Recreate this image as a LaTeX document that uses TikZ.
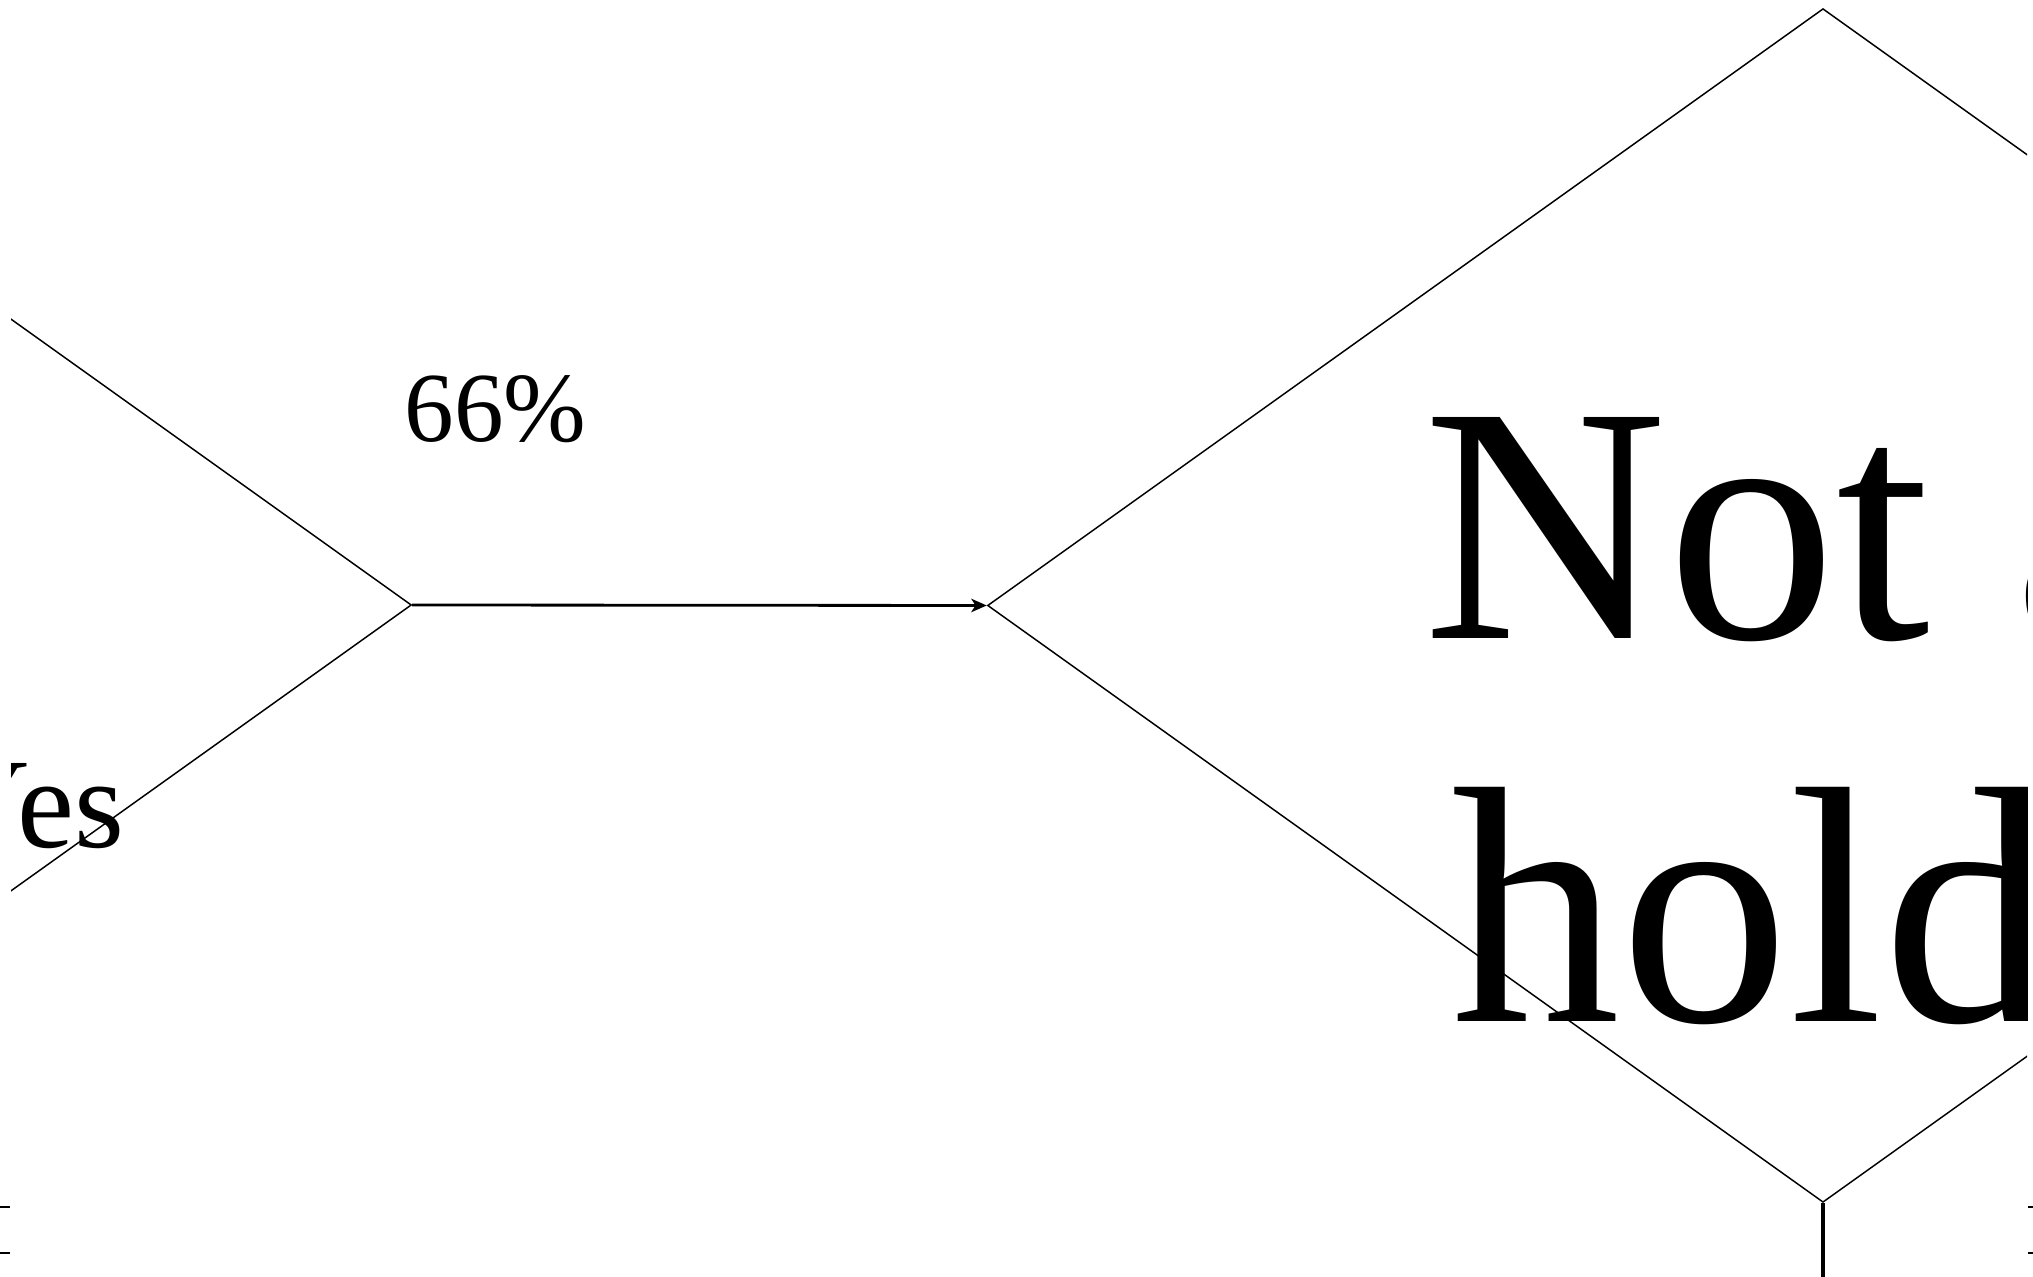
\documentclass[tikz,border=0pt]{standalone}
\usepackage{fontspec}
\setmainfont{Liberation Serif}
\usetikzlibrary{shapes.geometric,arrows.meta}
\begin{document}
\begin{tikzpicture}[x=0.01cm,y=-0.01cm,
  dia/.style={draw, diamond, line width=0.42pt, inner sep=0pt, minimum width=16.7cm, minimum height=11.93cm},
  arr/.style={line width=0.8pt, -{Stealth[length=4.4pt,width=3.8pt,inset=1.2pt]}},
  vline/.style={line width=0.95pt},
  tick/.style={line width=0.3pt},
  lbl/.style={inner sep=0pt}]
\useasboundingbox (0,0) rectangle (2033,1277);
\begin{scope}
  \clip (11,0) rectangle (2027,1277);
  \node[dia] (d1) at (-424,605) {};
  \node[dia] (d2) at (1823,605.5) {};
  \draw[arr] (d1.east) -- (d2.west);
  \node[lbl, anchor=base west, font=\fontsize{28.2}{34}\selectfont] (p66) at (404,442) {66\%};
  \node[lbl, anchor=base east, font=\fontsize{36.5}{44}\selectfont] (yes) at (125,848) {Yes};
  \node[lbl, anchor=base west, align=left, font=\fontsize{96}{109}\selectfont] (nh) at (1423,1022) {Not a\\\hspace{0.28cm}hold};
  \coordinate (vEnd) at (1823,1300);
  \draw[vline] (d2.south) -- (vEnd);
\end{scope}
\coordinate (tla) at (0,1207);
\coordinate (tlb) at (10,1207);
\coordinate (tlc) at (0,1253);
\coordinate (tld) at (10,1253);
\coordinate (tra) at (2028,1207);
\coordinate (trb) at (2033,1207);
\coordinate (trc) at (2028,1253);
\coordinate (trd) at (2033,1253);
\draw[tick] (tla) -- (tlb);
\draw[tick] (tlc) -- (tld);
\draw[tick] (tra) -- (trb);
\draw[tick] (trc) -- (trd);
\end{tikzpicture}
\end{document}
